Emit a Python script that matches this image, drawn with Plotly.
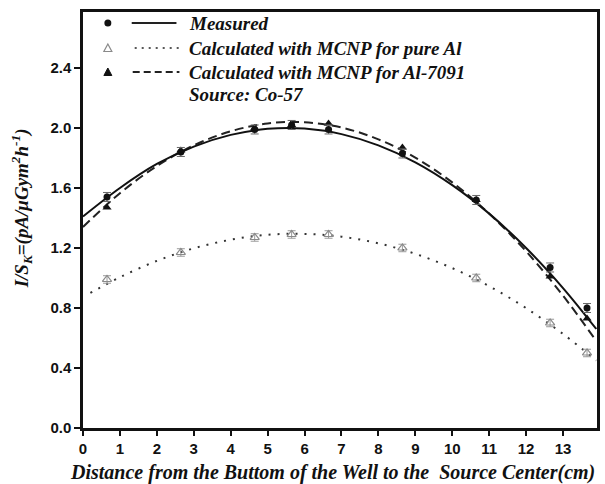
import plotly.graph_objects as go

# ---- data ----
x_pts = [0.65, 2.65, 4.65, 5.65, 6.65, 8.65, 10.65, 12.65, 13.65]
measured = [1.54, 1.84, 1.99, 2.02, 1.99, 1.83, 1.52, 1.07, 0.80]
measured_err = [0.03, 0.03, 0.03, 0.03, 0.03, 0.03, 0.03, 0.03, 0.03]
al7091 = [1.47, 1.85, 2.00, 2.02, 2.03, 1.87, 1.52, 1.01, 0.73]
pure_al = [0.99, 1.17, 1.27, 1.29, 1.29, 1.20, 1.00, 0.70, 0.50]
pure_al_err = [0.025, 0.025, 0.025, 0.025, 0.025, 0.025, 0.025, 0.025, 0.025]

# fitted curves (read at regular positions)
fit_x = [0, 1, 2, 3, 4, 5, 6, 7, 8, 9, 10, 11, 12, 13, 13.9]
fit_measured = [1.41, 1.60, 1.76, 1.876, 1.954, 1.994, 1.996, 1.959, 1.884, 1.771, 1.619, 1.429, 1.20, 0.933, 0.66]
fit_al7091 = [1.34, 1.565, 1.746, 1.884, 1.978, 2.03, 2.038, 2.003, 1.924, 1.802, 1.637, 1.429, 1.178, 0.882, 0.58]
fit_pure_x = [0.2, 1, 2, 3, 4, 5, 6, 7, 8, 9, 10, 11, 12, 13, 13.9]
fit_pure = [0.90, 1.005, 1.114, 1.198, 1.255, 1.288, 1.294, 1.275, 1.231, 1.161, 1.066, 0.945, 0.799, 0.627, 0.45]

x_ticks = list(range(0, 14))
y_ticks = [0.0, 0.4, 0.8, 1.2, 1.6, 2.0, 2.4]
y_tick_labels = ["0.0", "0.4", "0.8", "1.2", "1.6", "2.0", "2.4"]

legend_labels = ["Measured", "Calculated with MCNP for pure Al",
                 "Calculated with MCNP for Al-7091"]
note_text = "Source: Co-57"
x_title = "Distance from the Buttom of the Well to the \u00a0Source Center(cm)"
y_title = "I/S<sub>K</sub>=(pA/μGym<sup>2</sup>h<sup>-1</sup>)"

SERIF = "Liberation Serif, Times New Roman, serif"
SANS = "Liberation Sans, Arial, sans-serif"

W, H = 605, 484
ML, MR, MT, MB = 83, 5, 12, 56

fig = go.Figure()

# dotted: pure Al fit
fig.add_trace(go.Scatter(x=fit_pure_x, y=fit_pure, mode="lines", line_shape="spline",
                         line=dict(color="#333333", width=2, dash="2px,7px"),
                         showlegend=False, hoverinfo="skip"))
fig.add_trace(go.Scatter(x=x_pts, y=pure_al, mode="markers",
                         marker=dict(symbol="triangle-up-open", size=8, color="#8a8a8a",
                                     line=dict(width=1.2, color="#8a8a8a")),
                         error_y=dict(type="data", array=pure_al_err, color="#9a9a9a",
                                      thickness=1, width=4),
                         showlegend=False))
# dashed: Al-7091 fit
fig.add_trace(go.Scatter(x=fit_x, y=fit_al7091, mode="lines", line_shape="spline",
                         line=dict(color="#222222", width=2, dash="9px,5px"),
                         showlegend=False, hoverinfo="skip"))
fig.add_trace(go.Scatter(x=x_pts, y=al7091, mode="markers",
                         marker=dict(symbol="triangle-up", size=8, color="#111111"),
                         showlegend=False))
# solid: measured fit
fig.add_trace(go.Scatter(x=fit_x, y=fit_measured, mode="lines", line_shape="spline",
                         line=dict(color="#111111", width=2),
                         showlegend=False, hoverinfo="skip"))
fig.add_trace(go.Scatter(x=x_pts, y=measured, mode="markers",
                         marker=dict(symbol="circle", size=7, color="#111111"),
                         error_y=dict(type="data", array=measured_err, color="#666666",
                                      thickness=1, width=4),
                         showlegend=False))

pw, ph = W - ML - MR, H - MT - MB


def px(xp):
    return (xp - ML) / pw


def py(yp):
    return (H - MB - yp) / ph


shapes = []
annotations = []
rows_y = [23, 48, 72]
dashes = ["solid", "2px,5px", "7px,4px"]
line_x = [(132, 177), (135, 180), (133, 180)]
for i, (yy, lab) in enumerate(zip(rows_y, legend_labels)):
    # marker sample
    if i == 0:
        shapes.append(dict(type="circle", xref="paper", yref="paper",
                           x0=px(104.5), x1=px(111.5), y0=py(yy + 3.5), y1=py(yy - 3.5),
                           fillcolor="#111111", line=dict(width=0)))
    else:
        path = "M {},{} L {},{} L {},{} Z".format(px(104), py(yy + 3.5), px(112), py(yy + 3.5),
                                                   px(108), py(yy - 4))
        if i == 1:
            shapes.append(dict(type="path", path=path, xref="paper", yref="paper",
                               line=dict(color="#8a8a8a", width=1.2), fillcolor="rgba(0,0,0,0)"))
        else:
            shapes.append(dict(type="path", path=path, xref="paper", yref="paper",
                               line=dict(color="#111111", width=1), fillcolor="#111111"))
    shapes.append(dict(type="line", xref="paper", yref="paper",
                       x0=px(line_x[i][0]), x1=px(line_x[i][1]), y0=py(yy), y1=py(yy),
                       line=dict(color="#222222", width=2 if i != 1 else 1.6, dash=dashes[i])))
    annotations.append(dict(text=lab, xref="paper", yref="paper", x=px(188), y=py(yy),
                            xanchor="left", yanchor="middle", showarrow=False,
                            font=dict(family=SERIF, size=19, color="#111111",
                                      weight="bold", style="italic")))
annotations.append(dict(text=note_text, xref="paper", yref="paper", x=px(188), y=py(95),
                        xanchor="left", yanchor="middle", showarrow=False,
                        font=dict(family=SERIF, size=19, color="#111111",
                                  weight="bold", style="italic")))
# axis titles
annotations.append(dict(text=x_title, xref="paper", yref="paper", x=px(334), y=py(472),
                        xanchor="center", yanchor="middle", showarrow=False,
                        font=dict(family=SERIF, size=20, color="#111111",
                                  weight="bold", style="italic")))
annotations.append(dict(text=y_title, xref="paper", yref="paper", x=px(21), y=py(208),
                        xanchor="center", yanchor="middle", showarrow=False, textangle=-90,
                        font=dict(family=SERIF, size=19, color="#111111",
                                  weight="bold", style="italic")))

fig.update_layout(
    width=W, height=H,
    margin=dict(l=ML, r=MR, t=MT, b=MB, pad=0),
    paper_bgcolor="white", plot_bgcolor="white",
    shapes=shapes, annotations=annotations,
    showlegend=False,
)
fig.update_xaxes(range=[0, 13.92], tickmode="array", tickvals=x_ticks,
                 ticktext=[str(v) for v in x_ticks],
                 showgrid=False, zeroline=False, showline=True, linecolor="#111111",
                 linewidth=2.5, mirror=True, ticks="outside", ticklen=5, tickwidth=2,
                 tickcolor="#111111",
                 tickfont=dict(family=SANS, size=15, color="#111111", weight="bold"))
fig.update_yaxes(range=[0, 2.773], tickmode="array", tickvals=y_ticks, ticktext=y_tick_labels,
                 showgrid=False, zeroline=False, showline=True, linecolor="#111111",
                 linewidth=2.5, mirror=True, ticks="outside", ticklen=6, tickwidth=2,
                 tickcolor="#111111",
                 tickfont=dict(family=SANS, size=15, color="#111111", weight="bold"))

fig.write_html("out.html")
